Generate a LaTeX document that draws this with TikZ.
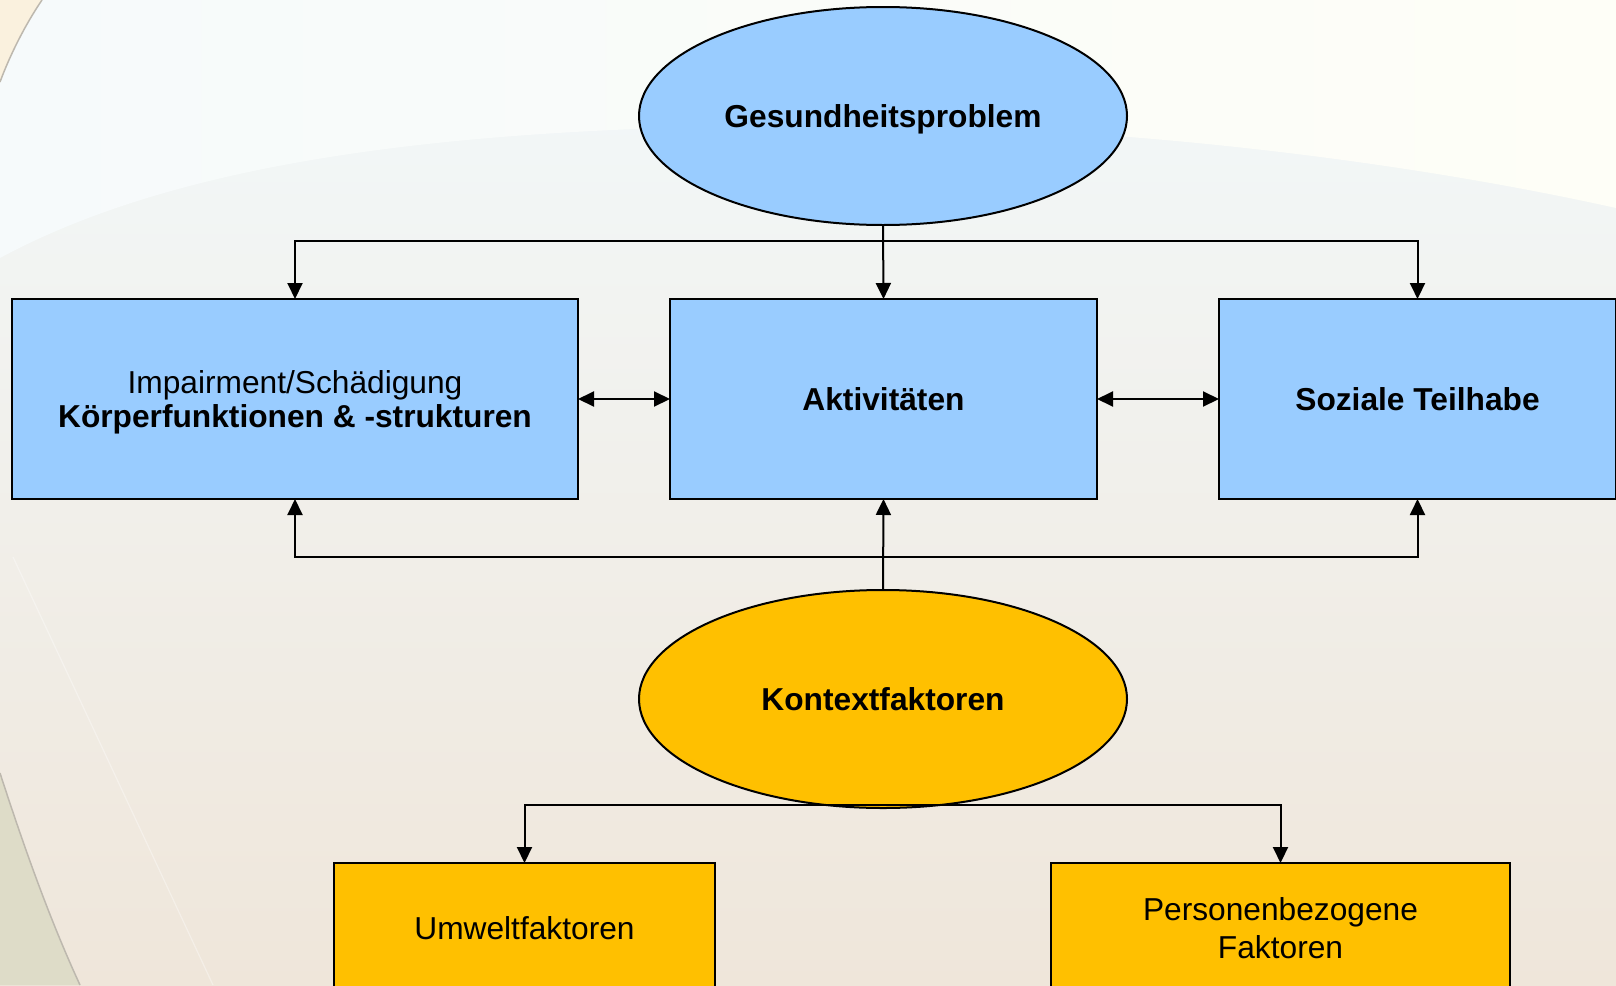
\documentclass[tikz,border=0pt]{standalone}
\usepackage{fontspec}
\setmainfont{Liberation Sans}
\usetikzlibrary{arrows.meta,shapes.geometric}
\definecolor{boxblue}{HTML}{99CCFF}
\definecolor{boxgold}{HTML}{FFC000}
\definecolor{bgtop}{HTML}{F3F9FB}
\definecolor{bgmid}{HTML}{F4F6F0}
\definecolor{bgbot}{HTML}{EFE6DA}
\definecolor{bgcream}{HTML}{FEFEF7}
\definecolor{bgcreamL}{HTML}{F6FAFB}
\definecolor{bgpeach}{HTML}{FAF1DE}
\definecolor{bgsage}{HTML}{DEDCC8}
\definecolor{arcgrey}{HTML}{BDB8AE}
\begin{document}
\begin{tikzpicture}[x=1pt,y=-1pt,
  every node/.style={font=\fontsize{31.7}{34}\selectfont, inner sep=0pt, outer sep=0pt, align=center},
  bluebox/.style={draw=black, line width=2pt, fill=boxblue, rectangle, minimum height=200pt},
  goldbox/.style={draw=black, line width=2pt, fill=boxgold, rectangle, minimum height=130pt},
  oval/.style={draw=black, line width=2pt, ellipse, minimum width=488pt, minimum height=218pt},
  conn/.style={line width=2pt, -{Triangle[width=15pt,length=16pt]}},
  dconn/.style={line width=2pt, {Triangle[width=15pt,length=16pt]}-{Triangle[width=15pt,length=16pt]}}
]
\useasboundingbox (0,0) rectangle (1616,985);
\clip (0,0) rectangle (1616,985);
% background
\shade[top color=bgtop, middle color=bgmid, bottom color=bgbot] (0,0) rectangle (1616,985);
\shade[left color=bgcreamL, right color=bgcream] (0,0) -- (0,258) .. controls (200,150) and (500,128) .. (800,125) .. controls (1100,122) and (1400,160) .. (1616,208) -- (1616,0) -- cycle;
\fill[bgpeach] (0,0) -- (42,0) .. controls (25,25) and (10,55) .. (0,82) -- cycle;
\draw[arcgrey, line width=1.5pt] (42,0) .. controls (25,25) and (10,55) .. (0,82);
\fill[bgsage] (0,773) .. controls (25,850) and (50,920) .. (80,985) -- (0,985) -- cycle;
\draw[arcgrey, line width=1.5pt] (0,773) .. controls (25,850) and (50,920) .. (80,985);
\draw[white, opacity=0.35, line width=1.2pt] (13,557) .. controls (80,700) and (150,850) .. (213,985);
% nodes
\node[oval, fill=boxblue, text depth=0pt] (gesund) at (883,116) {\bfseries Gesundheitsproblem};
\node[bluebox, minimum width=566pt, label={[yshift=-3pt]center:Impairment/Schädigung\\\bfseries Körperfunktionen \& -strukturen}] (koerper) at (295,399) {};
\node[bluebox, minimum width=427pt] (akt) at (883.5,399) {\bfseries Aktivitäten};
\node[bluebox, minimum width=397pt] (teilhabe) at (1417.5,399) {\bfseries Soziale Teilhabe};
\node[oval, fill=boxgold] (kontext) at (883,699) {\bfseries Kontextfaktoren};
\node[goldbox, minimum width=381pt] (umwelt) at (524.5,928) {Umweltfaktoren};
\node[goldbox, minimum width=459pt, font=\fontsize{31.7}{38}\selectfont] (personen) at (1280.5,928) {Personenbezogene\\Faktoren};
% connectors
\coordinate (topbar) at (883,241);
\coordinate (botbar) at (883,557);
\coordinate (kbar) at (883,805);
\draw[conn] (gesund.south) -- (akt.north);
\draw[conn] (topbar) -| (koerper.north);
\draw[conn] (topbar) -| (teilhabe.north);
\draw[conn] (kontext.north) -- (akt.south);
\draw[conn] (botbar) -| (koerper.south);
\draw[conn] (botbar) -| (teilhabe.south);
\draw[conn] (kbar) -| (umwelt.north);
\draw[conn] (kbar) -| (personen.north);
\draw[dconn] (koerper.east) -- (akt.west);
\draw[dconn] (akt.east) -- (teilhabe.west);
\end{tikzpicture}
\end{document}
